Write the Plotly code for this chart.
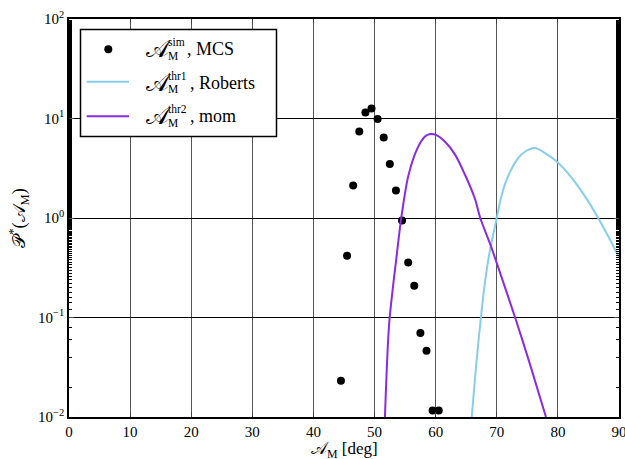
import plotly.graph_objects as go

# Simulated (MCS) points
sim_x = [44.5, 45.5, 46.5, 47.5, 48.5, 49.5, 50.5, 51.5, 52.5, 53.5, 54.5,
         55.5, 56.5, 57.5, 58.5, 59.5, 60.5]
sim_y = [0.0231, 0.417, 2.12, 7.4, 11.5, 12.6, 9.86, 6.44, 3.48, 1.89, 0.944,
         0.357, 0.208, 0.0697, 0.0462, 0.0116, 0.0116]

# Theory 1 (Roberts) curve
thr1_x = [65.9, 66.6, 67.4, 68.05, 68.9, 70.0, 70.6, 71.6, 73.5, 74.6, 76.2,
          77.9, 80.0, 81.7, 83.35, 85.0, 86.45, 88.25, 90.0]
thr1_y = [0.01, 0.032, 0.1, 0.222, 0.48, 1.0, 1.52, 2.42, 4.0, 4.63, 5.04,
          4.49, 3.61, 2.79, 2.07, 1.46, 1.035, 0.653, 0.403]

# Theory 2 (mom) curve
thr2_x = [51.7, 52.4, 53.6, 54.4, 55.5, 56.9, 58.25, 59.1, 60.05, 61.5, 63.2,
          64.8, 66.4, 67.3, 69.06, 70.0, 73.0, 75.4, 78.05]
thr2_y = [0.01, 0.088, 0.41, 1.03, 2.61, 4.84, 6.59, 6.97, 6.85, 5.87, 4.31,
          2.72, 1.58, 1.0, 0.518, 0.352, 0.1, 0.0344, 0.01]

x_ticks = [0, 10, 20, 30, 40, 50, 60, 70, 80, 90]
y_tickvals = [0.01, 0.1, 1, 10, 100]
y_ticktext = ["10<sup>\u22122</sup>", "10<sup>\u22121</sup>", "10<sup>0</sup>",
              "10<sup>1</sup>", "10<sup>2</sup>"]

legend_sups = ["sim", "thr1", "thr2"]
legend_tails = [", MCS", ", Roberts", ", mom"]

A = "\U0001D49C"
P = "\U0001D4AB"
FONT = "Liberation Serif, DejaVu Serif, serif"
BLUE = "#87CEEB"
PURPLE = "#8A2BE2"

W, H = 625, 459
ML, MR, MT, MB = 69, 6, 19, 42
PW, PH = W - ML - MR, H - MT - MB


def px(x):
    return (x - ML) / PW


def py(y):
    return (H - MB - y) / PH


fig = go.Figure()
fig.add_trace(go.Scatter(x=sim_x, y=sim_y, mode="markers",
                         marker=dict(color="black", size=8), showlegend=False))
fig.add_trace(go.Scatter(x=thr1_x, y=thr1_y, mode="lines",
                         line=dict(color=BLUE, width=2, shape="spline", smoothing=0.8),
                         showlegend=False))
fig.add_trace(go.Scatter(x=thr2_x, y=thr2_y, mode="lines",
                         line=dict(color=PURPLE, width=2, shape="spline", smoothing=0.8),
                         showlegend=False))

# Manual legend (box, samples, stacked sup/sub text)
shapes = [dict(type="rect", xref="paper", yref="paper", x0=px(80.5), x1=px(276.5),
               y0=py(136.5), y1=py(29.5), line=dict(color="black", width=1.5),
               fillcolor="white", layer="above")]
shapes.append(dict(type="circle", xref="paper", yref="paper", xsizemode="pixel",
                   ysizemode="pixel", xanchor=px(108.3), yanchor=py(49.3),
                   x0=-4, x1=4, y0=-4, y1=4, fillcolor="black",
                   line=dict(color="black", width=0), layer="above"))
for yy, col in [(81.7, BLUE), (116.3, PURPLE)]:
    shapes.append(dict(type="line", xref="paper", yref="paper", x0=px(86.7), x1=px(129),
                       y0=py(yy), y1=py(yy), line=dict(color=col, width=2), layer="above"))

annotations = []
row_c = [49.3, 82.5, 116.0]
for i, (sup, tail) in enumerate(zip(legend_sups, legend_tails)):
    c = row_c[i]
    annotations.append(dict(text=A, xref="paper", yref="paper", x=px(144), y=py(c),
                            xanchor="left", yanchor="middle", showarrow=False,
                            font=dict(size=24, family=FONT)))
    annotations.append(dict(text=sup, xref="paper", yref="paper", x=px(166), y=py(c - 7),
                            xanchor="left", yanchor="middle", showarrow=False,
                            font=dict(size=11.5, family=FONT)))
    annotations.append(dict(text="M", xref="paper", yref="paper", x=px(166), y=py(c + 6.5),
                            xanchor="left", yanchor="middle", showarrow=False,
                            font=dict(size=11.5, family=FONT)))
    annotations.append(dict(text=tail, xref="paper", yref="paper", x=px(185 if i == 0 else 188),
                            y=py(c), xanchor="left", yanchor="middle", showarrow=False,
                            font=dict(size=18, family=FONT)))

# x-axis title
annotations.append(dict(text=f"{A}<sub>M</sub> [deg]", xref="paper", yref="paper",
                        x=0.5, y=py(449.5), xanchor="center", yanchor="middle",
                        showarrow=False, font=dict(size=17, family=FONT)))

fig.update_layout(
    width=W, height=H,
    margin=dict(l=ML, r=MR, t=MT, b=MB),
    plot_bgcolor="white", paper_bgcolor="white",
    font=dict(family=FONT, size=15, color="black"),
    showlegend=False,
    shapes=shapes, annotations=annotations,
    xaxis=dict(range=[0, 90], tickvals=x_ticks, showgrid=True, gridcolor="#555",
               gridwidth=1, showline=True, linecolor="black", linewidth=1.5,
               mirror="ticks", ticks="inside", ticklen=5, zeroline=False,
               automargin=False, ticklabeloverflow="allow", tickfont=dict(size=15)),
    yaxis=dict(type="log", range=[-2, 2], tickvals=y_tickvals, ticktext=y_ticktext,
               showgrid=True, gridcolor="black", gridwidth=1, showline=True,
               linecolor="black", linewidth=1.5, mirror="ticks", ticks="inside",
               ticklen=5, zeroline=False, automargin=False,
               minor=dict(ticks="inside", ticklen=3, tickcolor="black", showgrid=False),
               title=dict(text=f"{P}<sup>*</sup>({A}<sub>M</sub>)", font=dict(size=18), standoff=8),
               tickfont=dict(size=15)),
)

fig.write_html("out.html")
